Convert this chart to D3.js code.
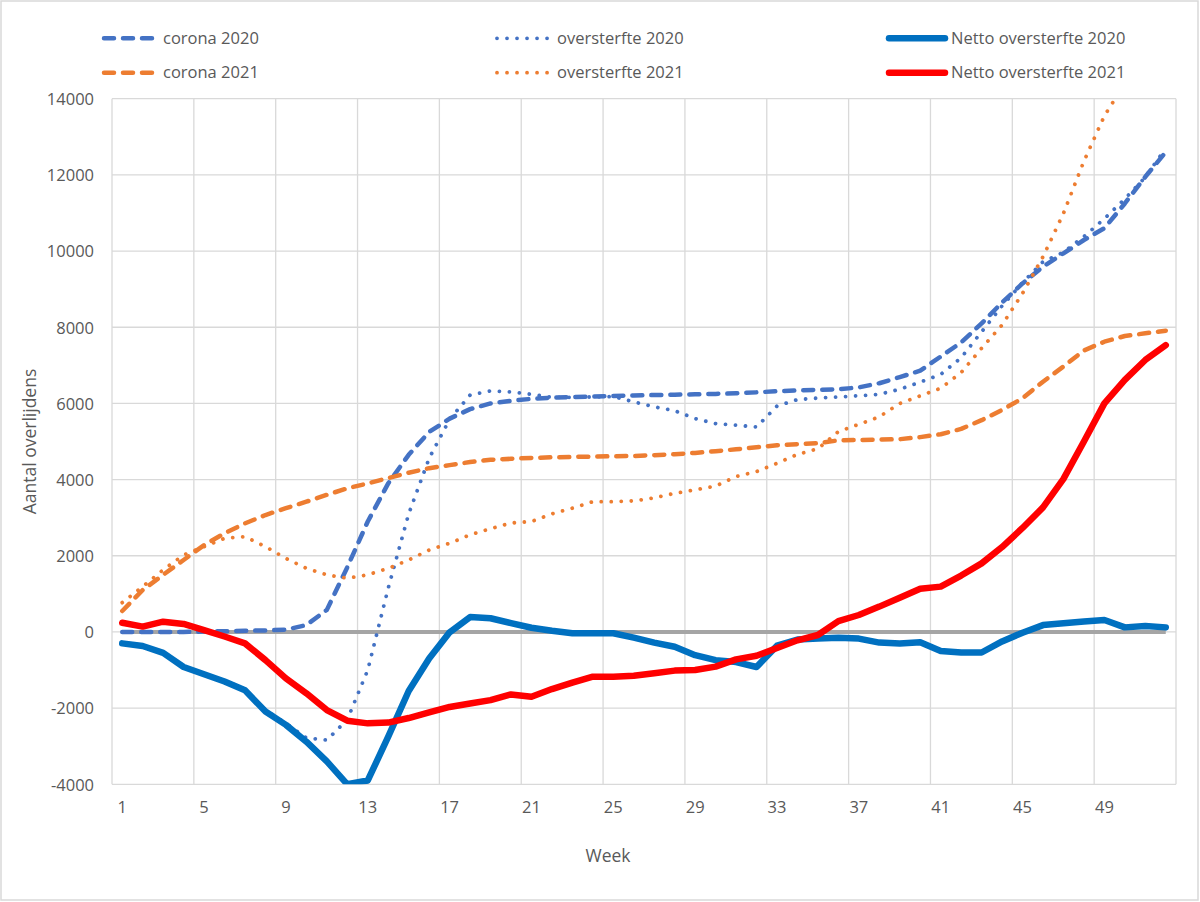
<!DOCTYPE html>
<html>
<head>
<meta charset="utf-8">
<script src="https://cdn.jsdelivr.net/npm/d3@7"></script>
<style>
  html, body { margin: 0; padding: 0; background: #fff; }
  svg { display: block; }
  text { font-family: "Open Sans", "Liberation Sans", sans-serif; fill: #595959; }
</style>
</head>
<body>
<svg id="chart" width="1200" height="902"></svg>
<script>
// ---------------- data ----------------
const weeks = d3.range(1, 53);
const weekTickLabels = [1, 5, 9, 13, 17, 21, 25, 29, 33, 37, 41, 45, 49];
const yTickValues = [-4000, -2000, 0, 2000, 4000, 6000, 8000, 10000, 12000, 14000];

const corona2020 = [0, 0, 0, 0, 10, 20, 30, 40, 60, 180, 580, 1700, 2900, 3900, 4650, 5250, 5600, 5850, 6000, 6070,
  6120, 6150, 6170, 6180, 6195, 6210, 6220, 6230, 6240, 6250, 6265, 6290, 6320, 6340, 6355, 6370, 6420, 6530, 6690, 6860,
  7230, 7600, 8100, 8650, 9150, 9590, 9940, 10290, 10600, 11250, 11950, 12600];
const oversterfte2020 = [-300, -360, -550, -930, -1100, -1280, -1500, -2050, -2400, -2780, -2840, -2300, -1000, 1150, 3100, 4560, 5580, 6220, 6330, 6300,
  6240, 6160, 6160, 6170, 6180, 6040, 5910, 5810, 5600, 5470, 5430, 5380, 5930, 6100, 6140, 6170, 6200, 6240, 6370, 6560,
  6760, 7200, 7880, 8560, 9170, 9720, 9970, 10380, 10850, 11370, 11940, 12700];
const netto2020 = [-300, -370, -550, -920, -1110, -1300, -1530, -2090, -2440, -2880, -3400, -4000, -3900, -2750, -1550, -700, -10, 390, 360, 230,
  110, 30, -35, -35, -35, -150, -280, -390, -610, -740, -790, -920, -360, -200, -170, -150, -175, -280, -305, -270,
  -500, -540, -540, -250, -20, 180, 230, 275, 315, 120, 155, 120];
const corona2021 = [550, 1100, 1500, 1890, 2280, 2590, 2850, 3070, 3250, 3420, 3600, 3770, 3900, 4040, 4180, 4300, 4380, 4460, 4520, 4545,
  4570, 4585, 4595, 4605, 4612, 4620, 4640, 4665, 4700, 4745, 4795, 4850, 4900, 4930, 4955, 5030, 5040, 5050, 5060, 5115,
  5190, 5330, 5560, 5830, 6135, 6570, 6970, 7390, 7620, 7770, 7840, 7910];
const oversterfte2021 = [770, 1190, 1630, 2020, 2240, 2460, 2500, 2240, 1930, 1670, 1500, 1410, 1500, 1670, 1890, 2150, 2330, 2550, 2710, 2860,
  2900, 3100, 3250, 3420, 3420, 3440, 3520, 3640, 3730, 3830, 4080, 4210, 4430, 4660, 4810, 5260, 5450, 5650, 6000, 6200,
  6400, 6810, 7450, 8060, 8890, 9850, 10990, 12360, 13550, 14400, 14980, 15450];
const netto2021 = [240, 140, 270, 210, 50, -120, -300, -740, -1220, -1610, -2050, -2330, -2400, -2380, -2260, -2110, -1970, -1880, -1790, -1640,
  -1700, -1500, -1330, -1175, -1175, -1150, -1085, -1015, -1000, -910, -720, -625, -420, -220, -80, 285, 445, 665, 900, 1135,
  1190, 1480, 1800, 2230, 2730, 3270, 4020, 5000, 6000, 6620, 7140, 7530];
const zeroLine = weeks.map(() => 0);

const seriesNames = ["corona 2020", "oversterfte 2020", "Netto oversterfte 2020",
                     "corona 2021", "oversterfte 2021", "Netto oversterfte 2021"];

// ---------------- layout ----------------
const svg = d3.select("#chart");
const plot = { left: 112, right: 1176, top: 98.7, bottom: 784.3 };

const x = d3.scaleBand().domain(weeks).range([plot.left, plot.right]).paddingInner(0).paddingOuter(0);
const cx = w => x(w) + x.bandwidth() / 2;
const y = d3.scaleLinear().domain([-4000, 14000]).range([plot.bottom, plot.top]);

// chart border
svg.append("rect").attr("x", 1).attr("y", 1).attr("width", 1197).attr("height", 899)
  .attr("fill", "none").attr("stroke", "#d9d9d9").attr("stroke-width", 1.5);

// gridlines
const grid = svg.append("g");
grid.selectAll("line.h").data(yTickValues).join("line")
  .attr("x1", plot.left).attr("x2", plot.right)
  .attr("y1", d => y(d)).attr("y2", d => y(d))
  .attr("stroke", "#d9d9d9").attr("stroke-width", 1.3);
const vGrid = weekTickLabels.map(w => x(w)).concat([plot.right]);
grid.selectAll("line.v").data(vGrid).join("line")
  .attr("x1", d => d).attr("x2", d => d)
  .attr("y1", plot.top).attr("y2", plot.bottom)
  .attr("stroke", "#d9d9d9").attr("stroke-width", 1.3);

// axes (labels only)
const yAxis = d3.axisLeft(y).tickValues(yTickValues).tickSize(0).tickPadding(0).tickFormat(d => String(d));
const gy = svg.append("g").attr("transform", `translate(${plot.left - 18},0)`).call(yAxis);
gy.select(".domain").remove();
gy.selectAll("text").attr("font-size", 16.5).attr("fill", "#595959")
  .style("font-family", '"Open Sans", sans-serif').attr("dy", "0.35em");

const xAxis = d3.axisBottom(x).tickValues(weekTickLabels).tickSize(0).tickPadding(0);
const gx = svg.append("g").attr("transform", `translate(0,${plot.bottom + 17})`).call(xAxis);
gx.select(".domain").remove();
gx.selectAll("text").attr("font-size", 16.5).attr("fill", "#595959")
  .style("font-family", '"Open Sans", sans-serif').attr("dy", "0.71em");

// axis titles
svg.append("text").attr("x", 608).attr("y", 862).attr("text-anchor", "middle")
  .attr("font-size", 17.5).text("Week");
svg.append("text").attr("transform", `translate(36,${(plot.top + plot.bottom) / 2}) rotate(-90)`)
  .attr("text-anchor", "middle").attr("font-size", 17.5).text("Aantal overlijdens");

// clip
svg.append("clipPath").attr("id", "plotclip").append("rect")
  .attr("x", plot.left).attr("y", plot.top)
  .attr("width", plot.right - plot.left).attr("height", plot.bottom - plot.top);

const line = d3.line().x((d, i) => cx(weeks[i])).y(d => y(d));
const lines = svg.append("g").attr("clip-path", "url(#plotclip)");

const styles = [
  { name: seriesNames[0], data: corona2020, color: "#4472c4", width: 4.5, dash: "10 9" },
  { name: seriesNames[1], data: oversterfte2020, color: "#4472c4", width: 3.8, dash: "0.01 10" },
  { name: seriesNames[2], data: netto2020, color: "#0070c0", width: 6.5, dash: null },
  { name: seriesNames[3], data: corona2021, color: "#ed7d31", width: 4.5, dash: "10 9" },
  { name: seriesNames[4], data: oversterfte2021, color: "#ed7d31", width: 3.8, dash: "0.01 10" },
  { name: seriesNames[5], data: netto2021, color: "#ff0000", width: 6.5, dash: null }
];

lines.append("path").datum(zeroLine).attr("d", line)
  .attr("fill", "none").attr("stroke", "#a5a5a5").attr("stroke-width", 4);

styles.forEach(s => {
  lines.append("path").datum(s.data).attr("d", line)
    .attr("fill", "none").attr("stroke", s.color).attr("stroke-width", s.width)
    .attr("stroke-linecap", "round").attr("stroke-linejoin", "round")
    .attr("stroke-dasharray", s.dash);
});

// legend
const legendPos = [
  { x1: 104, x2: 155, ty: 38.3, tx: 163 },
  { x1: 497, x2: 548, ty: 38.3, tx: 557 },
  { x1: 889, x2: 945, ty: 38.3, tx: 951 },
  { x1: 104, x2: 155, ty: 72.7, tx: 163 },
  { x1: 497, x2: 548, ty: 72.7, tx: 557 },
  { x1: 889, x2: 945, ty: 72.7, tx: 951 }
];
const legend = svg.append("g");
styles.forEach((s, i) => {
  const p = legendPos[i];
  legend.append("line").attr("x1", p.x1).attr("x2", p.x2).attr("y1", p.ty).attr("y2", p.ty)
    .attr("stroke", s.color).attr("stroke-width", s.width)
    .attr("stroke-linecap", "round")
    .attr("stroke-dasharray", s.dash);
  legend.append("text").attr("x", p.tx).attr("y", p.ty).attr("dy", "0.35em")
    .attr("font-size", 16.5).text(s.name);
});
</script>
</body>
</html>
